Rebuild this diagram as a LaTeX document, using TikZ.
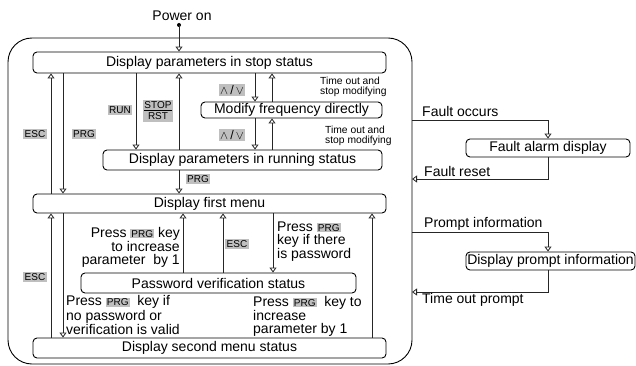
\documentclass[tikz,border=0pt]{standalone}
\usepackage{fontspec}
\setmainfont{Liberation Sans}
\usetikzlibrary{arrows.meta}
\definecolor{KeyClr}{rgb}{0.75,0.75,0.75}
\definecolor{LineClr}{rgb}{0.15,0.15,0.15}
\newcommand{\keyhl}[1]{{\setlength{\fboxsep}{1pt}\colorbox{KeyClr}{\fontsize{10}{10}\selectfont #1}}}

\begin{document}
\begin{tikzpicture}[x=1pt,y=-1pt,
  state/.style={draw,rounded corners=4pt,line width=0.9pt,inner sep=0pt,font=\fontsize{14}{13}\selectfont},
  tip/.style={-{Triangle[open,length=5pt,width=7pt]},line width=0.8pt,color=LineClr},
  key/.style={fill=KeyClr,inner sep=1.5pt,font=\fontsize{10}{11}\selectfont},
  note/.style={inner sep=0pt,font=\fontsize{14}{13}\selectfont},
  small/.style={inner sep=0pt,align=left,font=\fontsize{10.3}{10}\selectfont}]
\useasboundingbox (0,0) rectangle (636,366);

\draw[line width=0.9pt,rounded corners=24pt] (8,38) rectangle (412,364);

\node[state,minimum width=353pt,minimum height=21pt] (stop) at (209.5,62.5) {Display parameters in stop status};
\node[state,minimum width=181pt,minimum height=16pt] (modify) at (291.5,110) {Modify frequency directly};
\node[state,minimum width=279pt,minimum height=20pt] (running) at (242.5,160) {Display parameters in running status};
\node[state,minimum width=353pt,minimum height=19pt] (first) at (209.5,203.5) {Display first menu};
\node[state,minimum width=275pt,minimum height=20pt] (pwd) at (218.5,283) {Password verification status};
\node[state,minimum width=353pt,minimum height=20pt] (second) at (209.5,348) {Display second menu status};
\node[state,minimum width=164pt,minimum height=18pt] (fault) at (548,148) {Fault alarm display};
\node[state,minimum width=169pt,minimum height=18pt] (prompt) at (550.5,261) {Display prompt information};

\node[note] (power) at (182,16) {Power on};
\coordinate (dot) at (179,25);
\fill (dot) circle (2pt);
\draw[tip] (dot) -- (stop.north -| dot);

\coordinate (xa) at (51,0);
\coordinate (xb) at (63,0);
\coordinate (xc) at (136,0);
\coordinate (xd) at (179,0);
\coordinate (xe) at (255,0);
\coordinate (xf) at (272,0);
\coordinate (xg) at (183,0);
\coordinate (xh) at (223,0);
\coordinate (xi) at (273,0);
\coordinate (xj) at (372,0);

\draw[tip] (first.north -| xa) -- (stop.south -| xa);
\draw[tip] (stop.south -| xb) -- (first.north -| xb);
\draw[tip] (stop.south -| xc) -- (running.north -| xc);
\draw[tip] (running.north -| xd) -- (stop.south -| xd);
\draw[tip] (stop.south -| xe) -- (modify.north -| xe);
\draw[tip] (modify.north -| xf) -- (stop.south -| xf);
\draw[tip] (modify.south -| xe) -- (running.north -| xe);
\draw[tip] (running.north -| xf) -- (modify.south -| xf);
\draw[tip] (running.south -| xd) -- (first.north -| xd);
\draw[tip] (second.north -| xa) -- (first.south -| xa);
\draw[tip] (first.south -| xb) -- (second.north -| xb);
\draw[tip] (pwd.north -| xg) -- (first.south -| xg);
\draw[tip] (pwd.north -| xh) -- (first.south -| xh);
\draw[tip] (first.south -| xi) -- (pwd.north -| xi);
\draw[tip] (second.north -| xj) -- (first.south -| xj);

\node[key] (kesca) at (35,134) {ESC};
\node[key] (kprga) at (84,134) {PRG};
\node[key] (krun) at (120,110) {RUN};
\node[key,align=center] (kstop) at (158,111) {\underline{STOP}\\RST};
\node[key,font=\fontsize{12.5}{12}\selectfont,inner sep=1pt] (kuda) at (232,90) {$\wedge$\,/\,$\vee$};
\node[key,font=\fontsize{12.5}{12}\selectfont,inner sep=1pt] (kudb) at (232,135) {$\wedge$\,/\,$\vee$};
\node[key] (kprgb) at (198,179) {PRG};
\node[key] (kescb) at (35,277) {ESC};
\node[key] (kescc) at (237,244) {ESC};

\node[small,anchor=west] (timeouta) at (320,87) {Time out and\\stop modifying};
\node[small,anchor=west] (timeoutb) at (325,136) {Time out and\\stop modifying};

\node[note,align=right,anchor=east] (incup) at (180,247) {Press \keyhl{PRG} key\\to increase\\parameter\ \ by 1};
\node[note,align=left,anchor=west] (haspwd) at (277,241.5) {Press \keyhl{PRG}\\key if there\\is password};
\node[note,align=left,anchor=west] (nopwd) at (66,315) {Press \keyhl{PRG}\ \ key if\\no password or\\verification is valid};
\node[note,align=left,anchor=west] (incdown) at (253,316) {Press \keyhl{PRG}\ \ key to\\increase\\parameter by 1};

\coordinate (fo) at (412,120);
\coordinate (fr) at (412,179);
\coordinate (pi) at (412,232);
\coordinate (tp) at (412,292);
\draw[tip] (fo) -| (fault.north);
\draw[tip] (fault.south) |- (fr);
\draw[tip] (pi) -| (prompt.north -| fault.south);
\draw[tip] (prompt.south -| fault.south) |- (tp);

\node[note,anchor=west] (lblfo) at (422,111) {Fault occurs};
\node[note,anchor=west] (lblfr) at (424,171) {Fault reset};
\node[note,anchor=west] (lblpi) at (424,224) {Prompt information};
\node[note,anchor=west] (lbltp) at (422,300) {Time out prompt};
\end{tikzpicture}
\end{document}
